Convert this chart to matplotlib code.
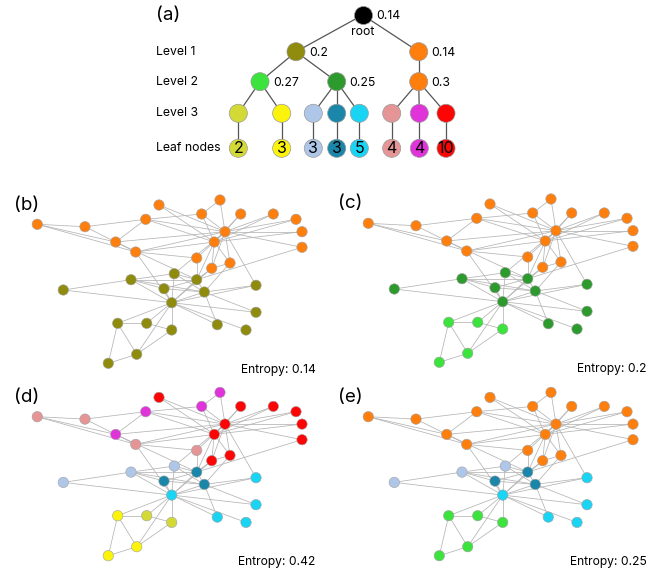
import matplotlib.pyplot as plt

plt.rcParams['font.family'] = ['Inter', 'DejaVu Sans']

W, H = 663, 568

# Zachary karate club friendships
edges = [
    (0, 1), (0, 2), (0, 3), (0, 4), (0, 5), (0, 6), (0, 7), (0, 8), (0, 10), (0, 11),
    (0, 12), (0, 13), (0, 17), (0, 19), (0, 21), (0, 31),
    (1, 2), (1, 3), (1, 7), (1, 13), (1, 17), (1, 19), (1, 21), (1, 30),
    (2, 3), (2, 7), (2, 8), (2, 9), (2, 13), (2, 27), (2, 28), (2, 32),
    (3, 7), (3, 12), (3, 13), (4, 6), (4, 10), (5, 6), (5, 10), (5, 16), (6, 16),
    (8, 30), (8, 32), (8, 33), (9, 33), (13, 33), (14, 32), (14, 33), (15, 32), (15, 33),
    (18, 32), (18, 33), (19, 33), (20, 32), (20, 33), (22, 32), (22, 33),
    (23, 25), (23, 27), (23, 29), (23, 32), (23, 33), (24, 25), (24, 27), (24, 31),
    (25, 31), (26, 29), (26, 33), (27, 33), (28, 31), (28, 33), (29, 32), (29, 33),
    (30, 32), (30, 33), (31, 32), (31, 33), (32, 33),
]

# spring layout of the club, shared by panels (b)-(e)
pos_x = [171.7, 204.3, 196.7, 131.0, 171.7, 117.7, 136.7, 164.0, 211.7, 302.0,
         146.7, 246.0, 63.3, 174.3, 159.0, 240.7, 108.3, 256.0, 273.3, 256.0,
         296.0, 217.3, 302.0, 145.7, 37.3, 85.0, 220.0, 115.7, 196.7, 201.7,
         230.0, 135.7, 214.3, 225.0]
pos_y = [302.7, 292.0, 279.7, 279.7, 330.0, 323.3, 354.3, 288.7, 268.3, 247.3,
         323.3, 330.0, 290.0, 273.7, 205.0, 214.0, 363.3, 312.3, 214.0, 285.3,
         219.3, 324.7, 231.7, 219.3, 224.3, 226.7, 200.0, 242.0, 258.0, 214.0,
         263.0, 252.0, 242.0, 231.7]

# finest (level 3) community of every member
member_group = [4, 3, 3, 2, 0, 1, 1, 3, 7, 7, 0, 4, 2, 2, 7, 7, 1, 4, 7, 4,
                7, 4, 7, 6, 5, 5, 6, 6, 5, 6, 7, 5, 7, 7]

leaf_sizes = [2, 3, 3, 3, 5, 4, 4, 10]
leaf_colors = ['#d3da35', '#fbf40a', '#aec7e8', '#1a86a9', '#1ad4f3',
               '#e69597', '#e033da', '#fe0505']
level2_of_leaf = [0, 0, 1, 1, 1, 2, 2, 2]
level2_colors = ['#3de33d', '#2c9a2c', '#ff7f0e']
level2_entropy = [0.27, 0.25, 0.3]
level1_of_level2 = [0, 0, 1]
level1_colors = ['#8f8b0c', '#ff7f0e']
level1_entropy = [0.2, 0.14]
root_entropy = 0.14
level_names = ['Level 1', 'Level 2', 'Level 3', 'Leaf nodes']
panel_entropy = [0.14, 0.2, 0.42, 0.25]

# tree layout
level_y = [15, 51.7, 81.7, 113.3, 148.3]
root_x = 362.7
level1_x = [296, 418.7]
level2_x = [260, 336.7, 418.7]
leaf_x = [238.3, 281.7, 313.3, 336.7, 359.3, 391.7, 419.3, 446]


def px_axes(fig, x0, y0, w, h):
    ax = fig.add_axes([x0 / W, 1 - (y0 + h) / H, w / W, h / H])
    ax.set_xlim(x0, x0 + w)
    ax.set_ylim(y0 + h, y0)
    ax.axis('off')
    return ax


fig = plt.figure(figsize=(W / 100, H / 100), dpi=100)

# ---- (a) community tree ----
ta = px_axes(fig, 0, 0, W, 172)
line_kw = dict(color='#555555', lw=0.9, zorder=1)
node_kw = dict(s=170, edgecolors='#9a9a9a', linewidths=0.5, zorder=2)

for i, x in enumerate(level1_x):
    ta.plot([root_x, x], [level_y[0], level_y[1]], **line_kw)
for j, x in enumerate(level2_x):
    ta.plot([level1_x[level1_of_level2[j]], x], [level_y[1], level_y[2]], **line_kw)
for k, x in enumerate(leaf_x):
    ta.plot([level2_x[level2_of_leaf[k]], x], [level_y[2], level_y[3]], **line_kw)
    ta.plot([x, x], [level_y[3], level_y[4]], **line_kw)

ta.scatter([root_x], [level_y[0]], c='black', **node_kw)
ta.scatter(level1_x, [level_y[1]] * 2, c=level1_colors, **node_kw)
ta.scatter(level2_x, [level_y[2]] * 3, c=level2_colors, **node_kw)
ta.scatter(leaf_x, [level_y[3]] * 8, c=leaf_colors, **node_kw)
ta.scatter(leaf_x, [level_y[4]] * 8, c=leaf_colors, **node_kw)

lab_kw = dict(fontsize=8.8, va='center', ha='left')
ta.text(root_x + 14, level_y[0] + 1, f'{root_entropy:g}', **lab_kw)
ta.text(root_x, level_y[0] + 17, 'root', fontsize=8.8, ha='center', va='center')
for x, e in zip(level1_x, level1_entropy):
    ta.text(x + 13, level_y[1] + 1, f'{e:g}', **lab_kw)
for x, e in zip(level2_x, level2_entropy):
    ta.text(x + 13, level_y[2] + 1, f'{e:g}', **lab_kw)
for x, n in zip(leaf_x, leaf_sizes):
    ta.text(x, level_y[4] + 0.5, str(n), fontsize=11.5, ha='center', va='center')
for name, y in zip(level_names, level_y[1:]):
    ta.text(156.5, y, name, **lab_kw)
ta.text(156, level_y[0] + 0.5, '(a)', fontsize=13.5, ha='left', va='center')


# ---- (b)-(e) colourings of the club ----
def colour_members(mode):
    out = []
    for g in member_group:
        l2 = level2_of_leaf[g]
        l1 = level1_of_level2[l2]
        if mode == 'level1':
            out.append(level1_colors[l1])
        elif mode == 'level2':
            out.append(level2_colors[l2])
        elif mode == 'level3':
            out.append(leaf_colors[g])
        else:
            # mixed cut: green branch at level 2, dark-green branch at level 3
            if l1 == 1:
                out.append(level1_colors[l1])
            elif l2 == 0:
                out.append(level2_colors[l2])
            else:
                out.append(leaf_colors[g])
    return out


panels = [('(b)', 'level1', 20, 180, 14), ('(c)', 'level2', 351, 179, 338),
          ('(d)', 'level3', 20, 372.4, 14), ('(e)', 'mixed', 351, 372.4, 338)]

for (tag, mode, ox, oy, tx), ent in zip(panels, panel_entropy):
    ax = fig.add_axes([ox / W, 1 - (oy + 195) / H, 300 / W, 195 / H])
    ax.set_xlim(20, 320)
    ax.set_ylim(375, 180)
    ax.axis('off')
    for a, b in edges:
        ax.plot([pos_x[a], pos_x[b]], [pos_y[a], pos_y[b]],
                color='#b4b4b4', lw=0.55, zorder=1)
    ax.scatter(pos_x, pos_y, s=56, c=colour_members(mode),
               edgecolors='#a0a0a0', linewidths=0.4, zorder=2)
    ax.text(315.5, 373, f'Entropy: {ent:g}', fontsize=8.7, ha='right', va='baseline')
    fig.text(tx / W, 1 - (oy + 25) / H, tag, fontsize=13.5,
             ha='left', va='center')

fig.savefig('out.png', dpi=100)
